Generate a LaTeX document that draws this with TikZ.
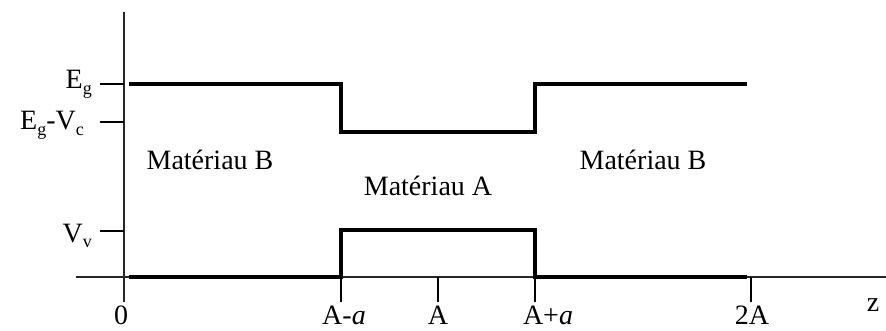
\documentclass[tikz,border=0pt]{standalone}
\usepackage{fontspec}
\setmainfont{Liberation Serif}
\newcommand\lowsub[1]{\raisebox{-0.45ex}{\fontsize{18}{18}\selectfont #1}}
\begin{document}
\begin{tikzpicture}[x=1pt,y=-1pt,
  axis/.style={line width=1.3pt,black!85},
  tickmark/.style={line width=1.8pt},
  band/.style={line width=4pt,line join=miter},
  lbl/.style={font=\fontsize{28}{32}\selectfont,inner sep=0pt}]
\useasboundingbox (0,0) rectangle (886,331);
% axes
\coordinate (ytop) at (124,12);
\coordinate (ybot) at (124,302);
\coordinate (xl) at (76,277);
\coordinate (xr) at (886,277);
\draw[axis] (ytop) -- (ybot);
\draw[axis] (xl) -- (xr);
% y ticks
\coordinate (tEg0) at (100,84);   \coordinate (tEg1) at (124,84);
\coordinate (tEc0) at (100,122);  \coordinate (tEc1) at (124,122);
\coordinate (tVv0) at (100,231);  \coordinate (tVv1) at (124,231);
\draw[tickmark] (tEg0) -- (tEg1);
\draw[tickmark] (tEc0) -- (tEc1);
\draw[tickmark] (tVv0) -- (tVv1);
% x ticks
\foreach \n/\x in {am/341, a/438, ap/535, tA/751}{
  \coordinate (\n0) at (\x,277);
  \coordinate (\n1) at (\x,302);
  \draw[tickmark] (\n0) -- (\n1);
}
% conduction band
\coordinate (c1) at (129,84);
\coordinate (c2) at (341,84);
\coordinate (c3) at (341,132);
\coordinate (c4) at (535,132);
\coordinate (c5) at (535,84);
\coordinate (c6) at (747,84);
\draw[band] (c1) -- (c2) -- (c3) -- (c4) -- (c5) -- (c6);
% valence band
\coordinate (v1) at (129,277);
\coordinate (v2) at (341,277);
\coordinate (v3) at (341,230);
\coordinate (v4) at (535,230);
\coordinate (v5) at (535,277);
\coordinate (v6) at (747,277);
\draw[band] (v1) -- (v2) -- (v3) -- (v4) -- (v5) -- (v6);
% labels
\node[lbl,anchor=east] (lEg) at (92,84) {E\lowsub{g}};
\node[lbl,anchor=east] (lEc) at (84,125) {E\lowsub{g}-V\lowsub{c}};
\node[lbl,anchor=east] (lVv) at (92,236) {V\lowsub{v}};
\node[lbl] (l0) at (121,315) {0};
\node[lbl] (lam) at (344,315) {A-\textit{a}};
\node[lbl] (la) at (438,315) {A};
\node[lbl] (lap) at (548,315) {A+\textit{a}};
\node[lbl] (l2A) at (752,315) {2A};
\node[lbl] (lz) at (873,305) {z};
\node[lbl] (mB1) at (210,160) {Matériau B};
\node[lbl] (mA) at (428,186) {Matériau A};
\node[lbl] (mB2) at (643,160) {Matériau B};
\end{tikzpicture}
\end{document}
